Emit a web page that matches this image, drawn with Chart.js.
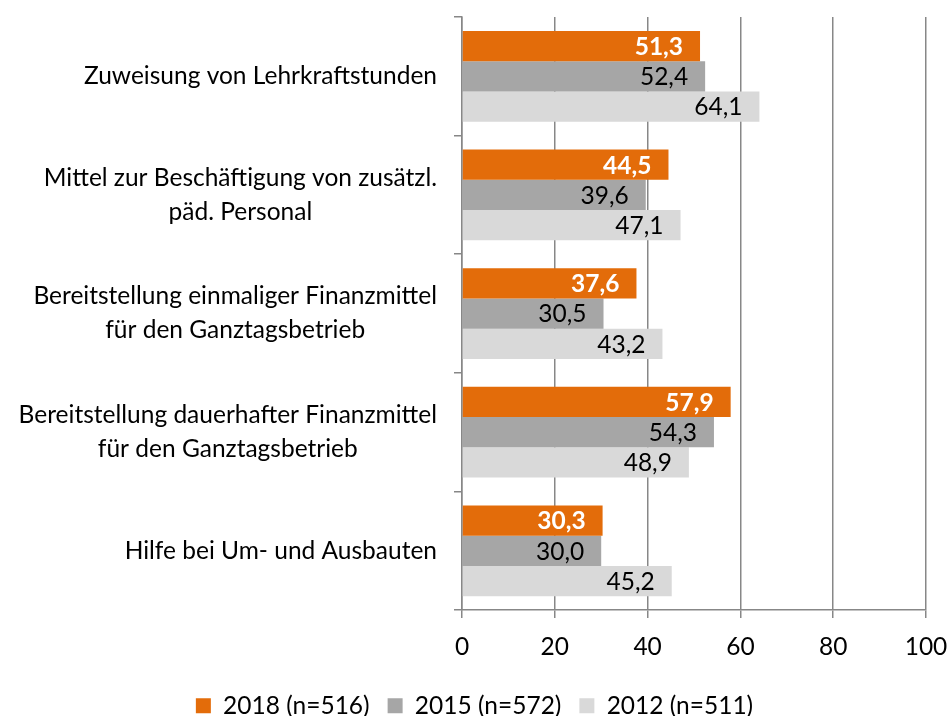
<!DOCTYPE html>
<html lang="de">
<head>
    <meta charset="UTF-8">
    <title>Unterstützung Ganztagsbetrieb</title>
    <style>
        body {
            margin: 0;
            background: #ffffff;
        }
        .container {
            width: 949px;
            height: 716px;
        }
    </style>
</head>
<body>
    <div class="container">
        <canvas id="barChart" width="949" height="716"></canvas>
    </div>

    <script src="https://cdn.jsdelivr.net/npm/chart.js"></script>
    <script>
        // Chart data
        const categories = [
            ['Zuweisung von Lehrkraftstunden'],
            ['Mittel zur Beschäftigung von zusätzl.', 'päd. Personal'],
            ['Bereitstellung einmaliger Finanzmittel', 'für den Ganztagsbetrieb'],
            ['Bereitstellung dauerhafter Finanzmittel', 'für den Ganztagsbetrieb'],
            ['Hilfe bei Um- und Ausbauten']
        ];
        const seriesNames = ['2018 (n=516)', '2015 (n=572)', '2012 (n=511)'];
        const values2018 = [51.3, 44.5, 37.6, 57.9, 30.3];
        const values2015 = [52.4, 39.6, 30.5, 54.3, 30.0];
        const values2012 = [64.1, 47.1, 43.2, 48.9, 45.2];
        const xTicks = [0, 20, 40, 60, 80, 100];

        const FONT = 'Lato, "Liberation Sans", sans-serif';
        const FSIZE = 24.5;
        const gridColor = '#878787';

        // Value labels inside the bar ends (German decimal comma)
        const valueLabels = {
            id: 'valueLabels',
            afterDatasetsDraw(chart) {
                const ctx = chart.ctx;
                ctx.save();
                ctx.textAlign = 'right';
                ctx.textBaseline = 'middle';
                chart.data.datasets.forEach((ds, i) => {
                    const meta = chart.getDatasetMeta(i);
                    ctx.font = (i === 0 ? 'bold ' : '') + FSIZE + 'px ' + FONT;
                    ctx.fillStyle = i === 0 ? '#ffffff' : '#000000';
                    meta.data.forEach((bar, j) => {
                        const txt = ds.data[j].toFixed(1).replace('.', ',');
                        ctx.fillText(txt, bar.x - 17, bar.y + 1);
                    });
                });
                ctx.restore();
            }
        };

        // Category labels: lines centred on each other, block right-aligned
        const categoryLabels = {
            id: 'categoryLabels',
            afterDraw(chart) {
                const ctx = chart.ctx;
                const yScale = chart.scales.y;
                const right = yScale.right - 25;
                const lineH = 34;
                ctx.save();
                ctx.font = FSIZE + 'px ' + FONT;
                ctx.fillStyle = '#000000';
                ctx.textAlign = 'center';
                ctx.textBaseline = 'middle';
                categories.forEach((lines, i) => {
                    const yc = yScale.getPixelForTick(i);
                    const maxW = Math.max(...lines.map(l => ctx.measureText(l).width));
                    const xc = right - maxW / 2;
                    const y0 = yc - (lines.length - 1) * lineH / 2;
                    lines.forEach((l, k) => ctx.fillText(l, xc, y0 + k * lineH));
                });
                ctx.restore();
            }
        };

        const ctx = document.getElementById('barChart').getContext('2d');
        const chart = new Chart(ctx, {
            type: 'bar',
            data: {
                labels: categories,
                datasets: [
                    { label: seriesNames[0], data: values2018, backgroundColor: '#E36C0A' },
                    { label: seriesNames[1], data: values2015, backgroundColor: '#A6A6A6' },
                    { label: seriesNames[2], data: values2012, backgroundColor: '#D9D9D9' }
                ]
            },
            options: {
                indexAxis: 'y',
                responsive: false,
                animation: false,
                datasets: {
                    bar: { categoryPercentage: 0.765, barPercentage: 1.0 }
                },
                layout: {
                    padding: { top: 17, right: 0, bottom: -12, left: 0 }
                },
                plugins: {
                    legend: {
                        position: 'bottom',
                        labels: {
                            boxWidth: 15,
                            boxHeight: 15,
                            padding: 18,
                            color: '#000000',
                            font: { family: FONT, size: FSIZE }
                        }
                    },
                    tooltip: { enabled: false }
                },
                scales: {
                    x: {
                        min: 0,
                        max: 100,
                        afterBuildTicks: (scale) => {
                            scale.ticks = xTicks.map(v => ({ value: v }));
                        },
                        afterFit: (scale) => { scale.paddingRight = 23; },
                        grid: {
                            color: gridColor,
                            lineWidth: 1.5,
                            tickLength: 8
                        },
                        border: { display: true, color: gridColor, width: 1.5 },
                        ticks: {
                            color: '#000000',
                            padding: 14,
                            font: { family: FONT, size: FSIZE }
                        }
                    },
                    y: {
                        afterFit: (scale) => { scale.width = 462; },
                        grid: {
                            offset: true,
                            drawOnChartArea: false,
                            color: gridColor,
                            lineWidth: 1.5,
                            tickLength: 8
                        },
                        border: { display: true, color: gridColor, width: 1.5 },
                        ticks: { display: false }
                    }
                }
            },
            plugins: [valueLabels, categoryLabels]
        });
    </script>
</body>
</html>
